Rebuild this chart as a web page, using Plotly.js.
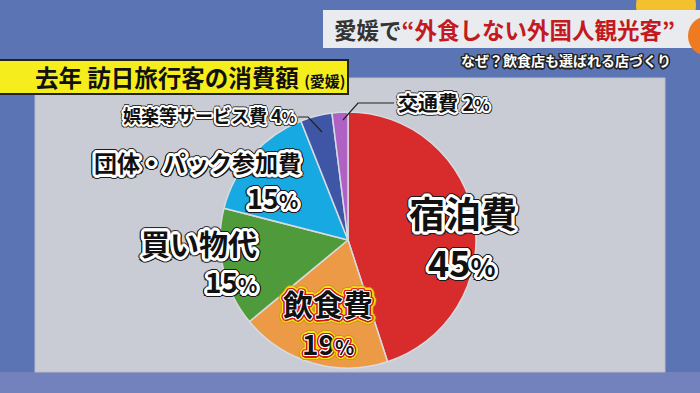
<!DOCTYPE html>
<html>
<head>
<meta charset="utf-8">
<script src="https://cdn.plot.ly/plotly-3.0.1.min.js"></script>
<style>
html,body{margin:0;padding:0;background:#5a74b4;}
#chart{width:700px;height:393px;}
</style>
</head>
<body>
<div id="chart"></div>
<script>
// ---- data ----
const categories = ['宿泊費', '飲食費', '買い物代', '団体・パック参加費', '娯楽等サービス費', '交通費'];
const shares = [45, 19, 15, 15, 4, 2];
const sliceColors = ['#d82b2c', '#ec9a46', '#4f9b3c', '#17a9e1', '#3f56a6', '#b061c4'];
const headlineDark = '愛媛で';
const headlineRed = '“外食しない外国人観光客”';
const subtitle = 'なぜ？飲食店も選ばれる店づくり';
const panelTitle = '去年 訪日旅行客の消費額';
const panelTitleNote = '(愛媛)';

// ---- helpers ----
const W = 700, H = 393;
const px = x => x / W;
const py = y => 1 - y / H;
function ring(color, r, n) {
  const out = [];
  for (let i = 0; i < n; i++) {
    const a = 2 * Math.PI * i / n;
    out.push((r * Math.cos(a)).toFixed(1) + 'px ' + (r * Math.sin(a)).toFixed(1) + 'px 0 ' + color);
  }
  return out;
}
const whiteOutline = ring('#ffffff', 1.5, 8).concat(ring('#ffffff', 3, 16)).concat(ring('#1a1a1a', 4.2, 20)).join(', ');
const whiteOutlineSmall = ring('#ffffff', 1, 8).concat(ring('#ffffff', 2, 12)).concat(ring('#333', 3, 12)).join(', ');
const redYellowOutline = ring('#ffffff', 1, 8).concat(ring('#d01818', 2.5, 16)).concat(ring('#f5e21a', 4, 20)).concat(ring('#c89a10', 5, 20)).join(', ');
const subShadow = ring('#222', 1.5, 12).join(', ');

const FONT = '"Noto Sans CJK JP", "Noto Sans", sans-serif';
const pct = (v, size) => v + '<span style="font-size:' + size + 'px">%</span>';

function txt(text, x, y, size, xanchor, shadow) {
  return {
    text: text, x: px(x), y: py(y), xref: 'paper', yref: 'paper',
    xanchor: xanchor, yanchor: 'middle', showarrow: false,
    font: {family: FONT, size: size, color: '#111', weight: 'bold', shadow: shadow}
  };
}

const data = [{
  type: 'pie',
  values: shares,
  labels: categories,
  marker: {colors: sliceColors, line: {color: '#d8dbe0', width: 1.5}},
  sort: false,
  direction: 'clockwise',
  rotation: 0,
  textinfo: 'none',
  hoverinfo: 'label+percent',
  showlegend: false,
  domain: {x: [px(348 - 128), px(348 + 128)], y: [py(240 + 128), py(240 - 128)]}
}];

const shapes = [
  {type: 'rect', xref: 'paper', yref: 'paper', x0: 0, x1: 1, y0: 0, y1: py(372), fillcolor: '#7381bd', line: {width: 0}, layer: 'below'},
  {type: 'circle', xref: 'paper', yref: 'paper', x0: px(636), x1: px(696), y0: py(36), y1: py(-24), fillcolor: '#f3c12e', line: {width: 0}, layer: 'below'},
  {type: 'rect', xref: 'paper', yref: 'paper', x0: px(323), x1: px(700), y0: py(48), y1: py(10), fillcolor: '#e9ebef', line: {width: 0}, layer: 'below'},
  {type: 'circle', xref: 'paper', yref: 'paper', x0: px(688), x1: px(728), y0: py(56), y1: py(16), fillcolor: '#ee7a22', line: {width: 0}, layer: 'below'},
  {type: 'rect', xref: 'paper', yref: 'paper', x0: px(35), x1: px(665), y0: py(372), y1: py(78), fillcolor: '#c9ccd4', line: {color: '#b9bdc8', width: 1}, layer: 'below'},
  {type: 'rect', xref: 'paper', yref: 'paper', x0: px(-2), x1: px(348), y0: py(94), y1: py(60), fillcolor: '#f6ee1c', line: {color: '#222', width: 2}, layer: 'below'},
  {type: 'path', xref: 'paper', yref: 'paper', path: 'M ' + px(343) + ' ' + py(120) + ' L ' + px(358) + ' ' + py(103) + ' L ' + px(394) + ' ' + py(103), line: {color: '#222', width: 1.2}},
  {type: 'path', xref: 'paper', yref: 'paper', path: 'M ' + px(298) + ' ' + py(117) + ' L ' + px(308) + ' ' + py(117) + ' L ' + px(322) + ' ' + py(132), line: {color: '#222', width: 1.2}}
];

const annotations = [
  {text: '<span style="color:#333">' + headlineDark + '</span><span style="color:#c21a20">' + headlineRed + '</span>',
   x: px(332), y: py(29), xref: 'paper', yref: 'paper', xanchor: 'left', yanchor: 'middle', showarrow: false,
   font: {family: FONT, size: 22.5, weight: 'bold'}},
  {text: subtitle, x: px(673), y: py(60), xref: 'paper', yref: 'paper', xanchor: 'right', yanchor: 'middle', showarrow: false,
   font: {family: FONT, size: 14, color: '#fff', weight: 'bold', shadow: subShadow}},
  {text: panelTitle + ' <span style="font-size:15px">' + panelTitleNote + '</span>',
   x: px(33), y: py(77), xref: 'paper', yref: 'paper', xanchor: 'left', yanchor: 'middle', showarrow: false,
   font: {family: FONT, size: 23.5, color: '#111', weight: 'bold'}},
  // 宿泊費
  txt(categories[0], 463, 212, 36, 'center', whiteOutline),
  txt(pct(shares[0], 26), 462, 261, 36, 'center', whiteOutline),
  // 飲食費
  txt(categories[1], 328, 303, 30, 'center', redYellowOutline),
  txt(pct(shares[1], 20), 328, 343, 28, 'center', redYellowOutline),
  // 買い物代
  txt(categories[2], 259, 243, 29, 'right', whiteOutline),
  txt(pct(shares[2], 20), 259, 281, 28, 'right', whiteOutline),
  // 団体・パック参加費
  txt(categories[3], 303, 162, 23, 'right', whiteOutline),
  txt(pct(shares[3], 20), 300, 197, 27, 'right', whiteOutline),
  // 娯楽等サービス費
  txt(categories[4] + ' ' + pct(shares[4], 14), 298, 115, 18, 'right', whiteOutlineSmall),
  // 交通費
  txt(categories[5] + ' ' + pct(shares[5], 16), 396, 103, 20, 'left', whiteOutlineSmall)
];

const layout = {
  width: W, height: H,
  margin: {l: 0, r: 0, t: 0, b: 0},
  paper_bgcolor: '#5a74b4',
  showlegend: false,
  shapes: shapes,
  annotations: annotations
};

Plotly.newPlot('chart', data, layout, {displayModeBar: false, staticPlot: true});
</script>
</body>
</html>
